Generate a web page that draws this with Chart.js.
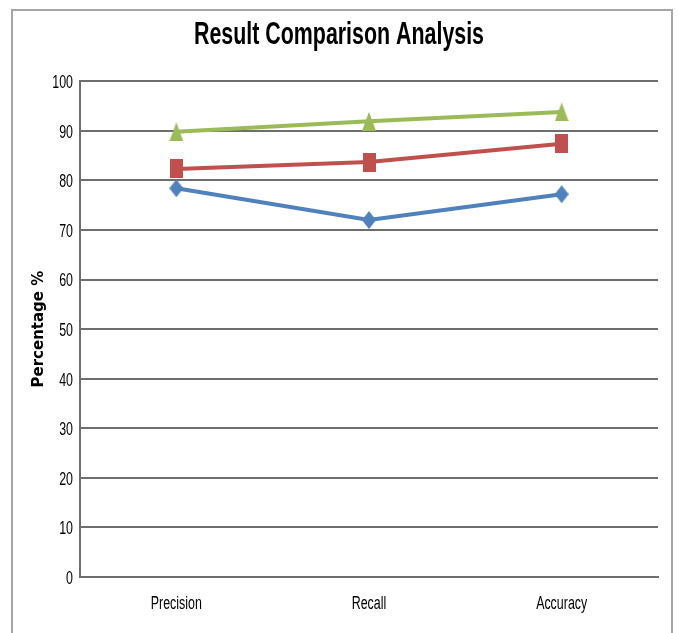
<!DOCTYPE html>
<html>
<head>
<meta charset="utf-8">
<script src="https://cdn.jsdelivr.net/npm/chart.js@4/dist/chart.umd.min.js"></script>
<style>
  html, body { margin: 0; padding: 0; background: #ffffff; }
  #wrap { position: relative; width: 678px; height: 633px; overflow: hidden; }
  #frame { position: absolute; left: 11px; top: 9px; width: 662px; height: 700px;
           border: 2px solid #a6a6a6; box-sizing: border-box; }
  canvas { position: absolute; left: 0; top: 0; }
</style>
</head>
<body>
<div id="wrap">
  <div id="frame"></div>
  <canvas id="c" width="678" height="633"></canvas>
</div>
<script>
const categories = ["Precision", "Recall", "Accuracy"];
const seriesBlue = [78.4, 72.0, 77.2];
const seriesRed = [82.3, 83.7, 87.4];
const seriesGreen = [89.8, 91.9, 93.8];
const yTicks = [0, 10, 20, 30, 40, 50, 60, 70, 80, 90, 100];
const chartTitle = "Result Comparison Analysis";
const yTitle = "Percentage %";

// Condensed text: squeeze glyphs horizontally for fonts tagged "Narrow"
const SQUEEZE = 0.69;
const origFill = CanvasRenderingContext2D.prototype.fillText;
CanvasRenderingContext2D.prototype.fillText = function (t, x, y, mw) {
  if (this.font.indexOf("Narrow") !== -1) {
    this.save();
    this.translate(x, y);
    this.scale(SQUEEZE, 1);
    origFill.call(this, t, 0, 0);
    this.restore();
  } else {
    origFill.call(this, t, x, y, mw);
  }
};

const narrow = "'NarrowTag', 'Liberation Sans', Arial, sans-serif";

function marker(kind, w, h, color) {
  const c = document.createElement("canvas");
  c.width = w; c.height = h;
  const g = c.getContext("2d");
  g.fillStyle = color;
  g.beginPath();
  if (kind === "diamond") {
    g.moveTo(w / 2, 0); g.lineTo(w, h / 2); g.lineTo(w / 2, h); g.lineTo(0, h / 2);
  } else if (kind === "triangle") {
    g.moveTo(w / 2, 0); g.lineTo(w, h); g.lineTo(0, h);
  } else {
    g.rect(0, 0, w, h);
  }
  g.closePath();
  g.fill();
  return c;
}

const blue = "#4F81BD", red = "#C0504D", green = "#9BBB59";

new Chart(document.getElementById("c"), {
  type: "line",
  data: {
    labels: categories,
    datasets: [
      { label: "Series1", data: seriesBlue, borderColor: blue, backgroundColor: blue,
        borderWidth: 4, pointStyle: marker("diamond", 14, 18, blue), tension: 0 },
      { label: "Series2", data: seriesRed, borderColor: red, backgroundColor: red,
        borderWidth: 4, pointStyle: marker("rect", 13, 19, red), tension: 0 },
      { label: "Series3", data: seriesGreen, borderColor: green, backgroundColor: green,
        borderWidth: 4, pointStyle: marker("triangle", 14, 19, green), tension: 0 }
    ]
  },
  options: {
    responsive: false,
    animation: false,
    layout: { padding: { left: 20, right: 20, top: 10, bottom: 0 } },
    plugins: {
      legend: { display: false },
      tooltip: { enabled: false },
      title: {
        display: true, text: chartTitle, color: "#000000",
        font: { family: narrow, size: 31, weight: "bold" },
        padding: { top: 7, bottom: 27 }
      }
    },
    scales: {
      x: {
        offset: true,
        grid: { display: false, drawTicks: false },
        border: { display: true, color: "#6e6e6e", width: 2 },
        ticks: { color: "#000000", font: { family: narrow, size: 18 }, padding: 16, maxRotation: 0 },
        afterFit: (s) => { s.height = 56; }
      },
      y: {
        min: 0, max: 100,
        afterBuildTicks: (s) => { s.ticks = yTicks.map(v => ({ value: v })); },
        grid: { color: "#6e6e6e", lineWidth: 2, drawTicks: false },
        border: { display: true, color: "#6e6e6e", width: 2 },
        ticks: { color: "#000000", font: { family: narrow, size: 18 }, padding: 7, labelOffset: 2 },
        title: { display: true, text: yTitle, color: "#000000",
                 font: { family: "'DejaVu Sans', Verdana, sans-serif", size: 15, weight: "bold" },
                 padding: { top: 10, bottom: 0 } },
        afterFit: (s) => { s.width = 60; }
      }
    }
  }
});
</script>
</body>
</html>
